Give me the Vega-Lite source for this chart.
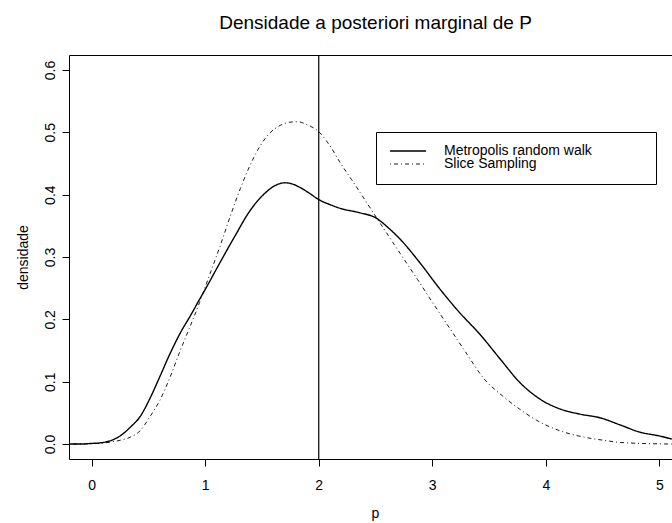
{
  "$schema": "https://vega.github.io/schema/vega-lite/v6.json",
  "width": 603,
  "height": 404,
  "autosize": {"type": "none"},
  "padding": {"left": 69, "top": 55, "right": 0, "bottom": 64},
  "background": "white",
  "title": {
    "text": "Densidade a posteriori marginal de P",
    "font": "Liberation Sans",
    "fontSize": 19,
    "fontWeight": "normal",
    "color": "black",
    "anchor": "middle",
    "frame": "group",
    "baseline": "alphabetic",
    "dx": 5,
    "offset": 6
  },
  "config": {
    "view": {"stroke": null},
    "font": "Liberation Sans",
    "axis": {
      "grid": false,
      "domainColor": "black",
      "domainWidth": 1,
      "tickColor": "black",
      "tickWidth": 1,
      "tickSize": 7,
      "labelColor": "black",
      "labelFont": "Liberation Sans",
      "labelFontSize": 14,
      "titleColor": "black",
      "titleFont": "Liberation Sans",
      "titleFontSize": 14,
      "titleFontWeight": "normal",
      "labelOverlap": false,
      "labelFlush": false
    }
  },
  "datasets": {
    "densidades": [
      {"p": -0.2, "densidade": 0.0, "metodo": "Metropolis random walk"},
      {"p": -0.1, "densidade": 0.0, "metodo": "Metropolis random walk"},
      {"p": 0.0, "densidade": 0.001, "metodo": "Metropolis random walk"},
      {"p": 0.08, "densidade": 0.002, "metodo": "Metropolis random walk"},
      {"p": 0.16, "densidade": 0.005, "metodo": "Metropolis random walk"},
      {"p": 0.25, "densidade": 0.013, "metodo": "Metropolis random walk"},
      {"p": 0.34, "densidade": 0.027, "metodo": "Metropolis random walk"},
      {"p": 0.43, "densidade": 0.045, "metodo": "Metropolis random walk"},
      {"p": 0.51, "densidade": 0.072, "metodo": "Metropolis random walk"},
      {"p": 0.6, "densidade": 0.108, "metodo": "Metropolis random walk"},
      {"p": 0.69, "densidade": 0.145, "metodo": "Metropolis random walk"},
      {"p": 0.78, "densidade": 0.178, "metodo": "Metropolis random walk"},
      {"p": 0.87, "densidade": 0.206, "metodo": "Metropolis random walk"},
      {"p": 0.95, "densidade": 0.232, "metodo": "Metropolis random walk"},
      {"p": 1.0, "densidade": 0.248, "metodo": "Metropolis random walk"},
      {"p": 1.13, "densidade": 0.291, "metodo": "Metropolis random walk"},
      {"p": 1.26, "densidade": 0.333, "metodo": "Metropolis random walk"},
      {"p": 1.39, "densidade": 0.373, "metodo": "Metropolis random walk"},
      {"p": 1.53, "densidade": 0.403, "metodo": "Metropolis random walk"},
      {"p": 1.62, "densidade": 0.415, "metodo": "Metropolis random walk"},
      {"p": 1.7, "densidade": 0.419, "metodo": "Metropolis random walk"},
      {"p": 1.77, "densidade": 0.417, "metodo": "Metropolis random walk"},
      {"p": 1.84, "densidade": 0.411, "metodo": "Metropolis random walk"},
      {"p": 1.92, "densidade": 0.402, "metodo": "Metropolis random walk"},
      {"p": 2.0, "densidade": 0.392, "metodo": "Metropolis random walk"},
      {"p": 2.1, "densidade": 0.384, "metodo": "Metropolis random walk"},
      {"p": 2.19, "densidade": 0.378, "metodo": "Metropolis random walk"},
      {"p": 2.36, "densidade": 0.371, "metodo": "Metropolis random walk"},
      {"p": 2.5, "densidade": 0.363, "metodo": "Metropolis random walk"},
      {"p": 2.63, "densidade": 0.344, "metodo": "Metropolis random walk"},
      {"p": 2.72, "densidade": 0.328, "metodo": "Metropolis random walk"},
      {"p": 2.89, "densidade": 0.291, "metodo": "Metropolis random walk"},
      {"p": 3.07, "densidade": 0.248, "metodo": "Metropolis random walk"},
      {"p": 3.24, "densidade": 0.211, "metodo": "Metropolis random walk"},
      {"p": 3.42, "densidade": 0.176, "metodo": "Metropolis random walk"},
      {"p": 3.6, "densidade": 0.136, "metodo": "Metropolis random walk"},
      {"p": 3.77, "densidade": 0.099, "metodo": "Metropolis random walk"},
      {"p": 3.95, "densidade": 0.072, "metodo": "Metropolis random walk"},
      {"p": 4.13, "densidade": 0.056, "metodo": "Metropolis random walk"},
      {"p": 4.3, "densidade": 0.048, "metodo": "Metropolis random walk"},
      {"p": 4.48, "densidade": 0.042, "metodo": "Metropolis random walk"},
      {"p": 4.65, "densidade": 0.031, "metodo": "Metropolis random walk"},
      {"p": 4.83, "densidade": 0.019, "metodo": "Metropolis random walk"},
      {"p": 5.0, "densidade": 0.013, "metodo": "Metropolis random walk"},
      {"p": 5.11, "densidade": 0.008, "metodo": "Metropolis random walk"},
      {"p": -0.2, "densidade": 0.0, "metodo": "Slice Sampling"},
      {"p": 0.0, "densidade": 0.0005, "metodo": "Slice Sampling"},
      {"p": 0.16, "densidade": 0.003, "metodo": "Slice Sampling"},
      {"p": 0.25, "densidade": 0.006, "metodo": "Slice Sampling"},
      {"p": 0.34, "densidade": 0.011, "metodo": "Slice Sampling"},
      {"p": 0.43, "densidade": 0.022, "metodo": "Slice Sampling"},
      {"p": 0.51, "densidade": 0.043, "metodo": "Slice Sampling"},
      {"p": 0.6, "densidade": 0.07, "metodo": "Slice Sampling"},
      {"p": 0.69, "densidade": 0.107, "metodo": "Slice Sampling"},
      {"p": 0.78, "densidade": 0.15, "metodo": "Slice Sampling"},
      {"p": 0.87, "densidade": 0.19, "metodo": "Slice Sampling"},
      {"p": 0.95, "densidade": 0.227, "metodo": "Slice Sampling"},
      {"p": 1.04, "densidade": 0.272, "metodo": "Slice Sampling"},
      {"p": 1.13, "densidade": 0.317, "metodo": "Slice Sampling"},
      {"p": 1.22, "densidade": 0.365, "metodo": "Slice Sampling"},
      {"p": 1.31, "densidade": 0.41, "metodo": "Slice Sampling"},
      {"p": 1.39, "densidade": 0.445, "metodo": "Slice Sampling"},
      {"p": 1.48, "densidade": 0.477, "metodo": "Slice Sampling"},
      {"p": 1.57, "densidade": 0.499, "metodo": "Slice Sampling"},
      {"p": 1.66, "densidade": 0.511, "metodo": "Slice Sampling"},
      {"p": 1.74, "densidade": 0.516, "metodo": "Slice Sampling"},
      {"p": 1.81, "densidade": 0.517, "metodo": "Slice Sampling"},
      {"p": 1.9, "densidade": 0.512, "metodo": "Slice Sampling"},
      {"p": 2.0, "densidade": 0.501, "metodo": "Slice Sampling"},
      {"p": 2.1, "densidade": 0.478, "metodo": "Slice Sampling"},
      {"p": 2.19, "densidade": 0.451, "metodo": "Slice Sampling"},
      {"p": 2.29, "densidade": 0.424, "metodo": "Slice Sampling"},
      {"p": 2.52, "densidade": 0.36, "metodo": "Slice Sampling"},
      {"p": 2.72, "densidade": 0.305, "metodo": "Slice Sampling"},
      {"p": 2.87, "densidade": 0.264, "metodo": "Slice Sampling"},
      {"p": 3.01, "densidade": 0.225, "metodo": "Slice Sampling"},
      {"p": 3.16, "densidade": 0.184, "metodo": "Slice Sampling"},
      {"p": 3.31, "densidade": 0.143, "metodo": "Slice Sampling"},
      {"p": 3.45, "densidade": 0.106, "metodo": "Slice Sampling"},
      {"p": 3.62, "densidade": 0.077, "metodo": "Slice Sampling"},
      {"p": 3.77, "densidade": 0.056, "metodo": "Slice Sampling"},
      {"p": 3.92, "densidade": 0.038, "metodo": "Slice Sampling"},
      {"p": 4.07, "densidade": 0.025, "metodo": "Slice Sampling"},
      {"p": 4.22, "densidade": 0.016, "metodo": "Slice Sampling"},
      {"p": 4.37, "densidade": 0.01, "metodo": "Slice Sampling"},
      {"p": 4.51, "densidade": 0.006, "metodo": "Slice Sampling"},
      {"p": 4.63, "densidade": 0.003, "metodo": "Slice Sampling"},
      {"p": 4.84, "densidade": 0.001, "metodo": "Slice Sampling"},
      {"p": 5.11, "densidade": 0.0, "metodo": "Slice Sampling"}
    ]
  },
  "layer": [
    {
      "data": {"name": "densidades"},
      "mark": {"type": "line", "clip": true, "color": "black", "interpolate": "monotone"},
      "encoding": {
        "x": {
          "field": "p",
          "type": "quantitative",
          "scale": {"domain": [-0.2, 5.112], "nice": false, "zero": false},
          "axis": {
            "orient": "bottom",
            "values": [0, 1, 2, 3, 4, 5],
            "format": "d",
            "labelBaseline": "top",
            "labelPadding": 12,
            "title": "p",
            "titleBaseline": "alphabetic",
            "titleX": 306,
            "titleY": 58
          }
        },
        "y": {
          "field": "densidade",
          "type": "quantitative",
          "scale": {"domain": [-0.024, 0.624], "nice": false, "zero": false},
          "axis": {
            "values": [0, 0.1, 0.2, 0.3, 0.4, 0.5, 0.6],
            "format": ".1f",
            "labelAngle": 270,
            "labelAlign": "center",
            "labelBaseline": "alphabetic",
            "labelPadding": 8,
            "title": "densidade",
            "titleAngle": 270,
            "titleAlign": "center",
            "titleBaseline": "alphabetic",
            "titleX": -42,
            "titleY": 202
          }
        },
        "strokeDash": {
          "field": "metodo",
          "type": "nominal",
          "scale": {
            "domain": ["Metropolis random walk", "Slice Sampling"],
            "range": [[1, 0], [1, 3, 4, 3]]
          },
          "legend": {
            "title": null,
            "orient": "none",
            "legendX": 307,
            "legendY": 77,
            "strokeColor": "black",
            "fillColor": "white",
            "padding": 13,
            "rowPadding": -4,
            "clipHeight": 12,
            "symbolType": "M-3.6,0H3.6",
            "symbolSize": 100,
            "symbolOffset": 12,
            "symbolStrokeColor": "black",
            "symbolStrokeWidth": 1.2,
            "labelOffset": 29,
            "labelLimit": 400,
            "labelFont": "Liberation Sans",
            "labelFontSize": 14,
            "labelColor": "black",
            "labelExpr": "datum.label + '\u00a0\u00a0\u00a0\u00a0\u00a0\u00a0\u00a0\u00a0\u00a0\u00a0\u00a0\u00a0\u00a0\u200b'"
          }
        },
        "strokeWidth": {
          "field": "metodo",
          "type": "nominal",
          "scale": {
            "domain": ["Metropolis random walk", "Slice Sampling"],
            "range": [1.4, 0.9]
          },
          "legend": null
        }
      }
    },
    {
      "data": {"values": [{"p": 2}]},
      "mark": {"type": "rule", "color": "black", "strokeWidth": 1.2},
      "encoding": {
        "x": {
          "field": "p",
          "type": "quantitative",
          "axis": {"orient": "top", "labels": false, "ticks": false, "domain": true, "title": null, "grid": false}
        }
      }
    }
  ],
  "resolve": {"axis": {"x": "independent"}}
}
